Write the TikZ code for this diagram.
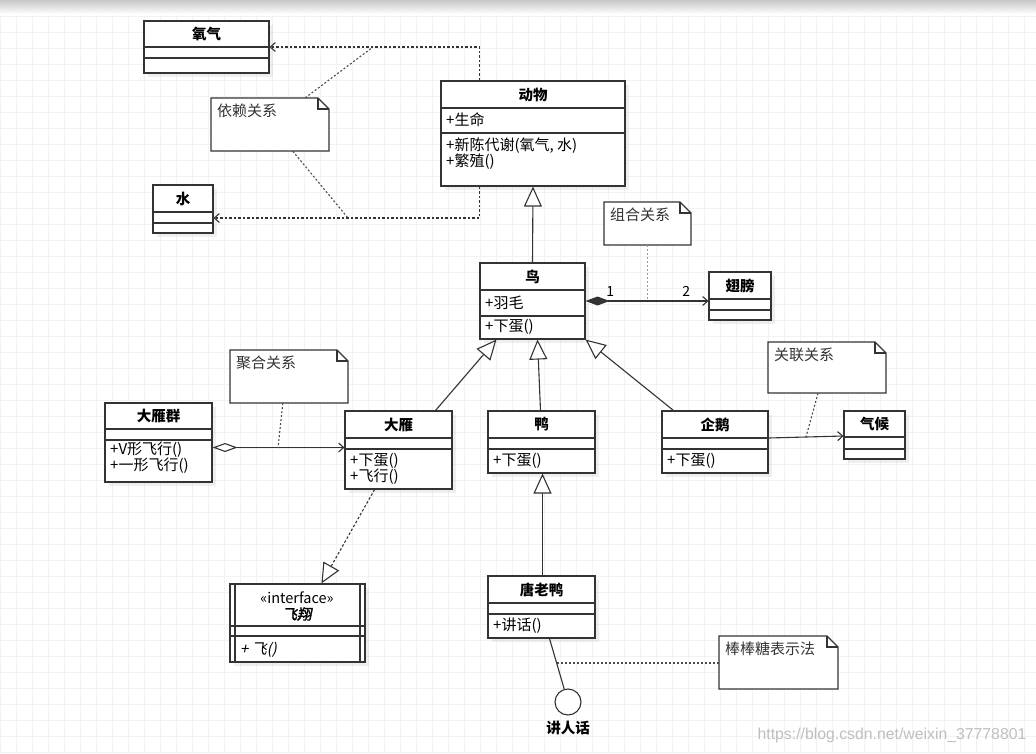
\documentclass[tikz,border=0pt]{standalone}
\usepackage{fontspec}
\setmainfont{Noto Sans CJK SC}
\newfontfamily\cjkslant{Noto Sans CJK SC}[FakeSlant=0.2]
\newfontfamily\cjkslantbold{Noto Sans CJK SC}[FakeSlant=0.2,FakeBold=2]
\newfontfamily\wmfont{Liberation Sans}
\usetikzlibrary{arrows.meta, fit, shadows, positioning}

\tikzset{
  umlbox/.style={draw=black!80, line width=1.1pt, fill=white, inner sep=0pt,
    drop shadow={opacity=0.12, shadow xshift=4pt, shadow yshift=-4pt}},
  umltitle/.style={font=\bfseries\fontsize{14.5}{16}\selectfont, inner sep=0pt},
  member/.style={font=\fontsize{15}{16}\selectfont, anchor=west, inner sep=0pt, align=left},
  notebox/.style={draw=black!80, line width=1.1pt, fill=white},
  notetext/.style={font=\fontsize{15}{16}\selectfont, anchor=north west, inner sep=0pt, text=black!80},
  gen/.style={draw=black!80, line width=1.1pt, -{Triangle[open, length=20pt, width=18pt, fill=white]}},
  realize/.style={gen, dash pattern=on 2.5pt off 2pt},
  dep/.style={draw=black!80, line width=1.1pt, dash pattern=on 2.5pt off 2pt, -{Straight Barb[length=5pt, width=9pt]}},
  assoc/.style={draw=black!80, line width=1.1pt, -{Straight Barb[length=5pt, width=9pt]}},
  comp/.style={draw=black!80, line width=1.1pt, {Diamond[length=24pt, width=9pt]}-{Straight Barb[length=5pt, width=9pt]}},
  agg/.style={draw=black!80, line width=1.1pt, {Diamond[open, length=25pt, width=9pt, fill=white]}-{Straight Barb[length=5pt, width=9pt]}},
  noteline/.style={draw=black!70, line width=1.1pt, dash pattern=on 2pt off 2pt},
  mult/.style={font=\fontsize{14}{16}\selectfont, inner sep=1pt},
}

% class box: name, x1, y1, x2, y2, first divider, second divider, title
\newcommand{\umlclass}[8]{%
  \node[umlbox, fit={(#2,#3) (#4,#5)}] (#1) {};
  \draw[black!80, line width=1.1pt] (#2,#6) -- (#4,#6) (#2,#7) -- (#4,#7);
  \node[umltitle] (#1-title) at ({(#2+#4)/2},{(#3+#6)/2}) {#8};
}
% note with folded corner: name, x1, y1, x2, y2, text
\newcommand{\umlnote}[6]{%
  \node[fit={(#2,#3) (#4,#5)}, inner sep=0pt] (#1) {};
  \draw[notebox] (#2,#3) -- (#4-11,#3) -- (#4,#3+11) -- (#4,#5) -- (#2,#5) -- cycle;
  \draw[black!80, line width=1.1pt] (#4-11,#3) -- (#4-11,#3+11) -- (#4,#3+11);
  \node[notetext] (#1-text) at (#2+6,#3+6) {#6};
}

\begin{document}
\begin{tikzpicture}[x=1pt, y=-1pt]
  \useasboundingbox (0,0) rectangle (1036,753);
  % paper
  \fill[white] (0,0) rectangle (1036,753);
  \draw[black!5, step=16pt] (0,0) grid (1036,753);
  \shade[top color=black!22, bottom color=white] (0,0) rectangle (1036,14);

  % classes
  \umlclass{O2}{144}{21}{269}{73}{47}{58}{氧气}
  \umlclass{Water}{153}{185}{213}{233}{212}{223}{水}
  \umlclass{Animal}{441}{81}{625}{186}{108}{133}{动物}
  \node[member] (Animal-attr) at (446,120) {+生命};
  \node[member] (Animal-ops) at (446,154) {+新陈代谢(氧气, 水)\\+繁殖()};
  \umlclass{Bird}{480}{263}{585}{339}{290}{316}{鸟}
  \node[member] (Bird-attr) at (485,303) {+羽毛};
  \node[member] (Bird-ops) at (485,327) {+下蛋()};
  \umlclass{Wing}{709}{272}{771}{320}{299}{310}{翅膀}
  \umlclass{Flock}{105}{403}{212}{482}{429}{440}{大雁群}
  \node[member] (Flock-ops) at (110,458) {+V形飞行()\\+一形飞行()};
  \umlclass{Goose}{345}{411}{452}{489}{438}{449}{大雁}
  \node[member] (Goose-ops) at (350,469) {+下蛋()\\+飞行()};
  \umlclass{Duck}{488}{411}{595}{473}{438}{449}{鸭}
  \node[member] (Duck-ops) at (493,461) {+下蛋()};
  \umlclass{Penguin}{662}{411}{768}{473}{438}{449}{企鹅}
  \node[member] (Penguin-ops) at (667,461) {+下蛋()};
  \umlclass{Climate}{844}{411}{905}{459}{437}{449}{气候}
  \umlclass{Donald}{488}{576}{595}{638}{603}{614}{唐老鸭}
  \node[member] (Donald-ops) at (493,626) {+讲话()};

  % interface
  \umlclass{Fly}{230}{584}{365}{662}{626}{636}{}
  \draw[black!80, line width=1.1pt] (235,584) -- (235,662) (360,584) -- (360,662);
  \node[font=\fontsize{14.5}{16}\selectfont, inner sep=0pt] (Fly-stereo) at (297,598) {«interface»};
  \node[font=\cjkslantbold\fontsize{14.5}{16}\selectfont, inner sep=0pt] (Fly-name) at (297,614) {飞翔};
  \node[member, font=\cjkslant\fontsize{15}{16}\selectfont] (Fly-ops) at (240,650) {+ 飞()};

  % notes
  \umlnote{DepNote}{211}{98}{329}{151}{依赖关系}
  \umlnote{CompNote}{604}{202}{691}{245}{组合关系}
  \umlnote{AggNote}{230}{350}{348}{403}{聚合关系}
  \umlnote{AssocNote}{768}{342}{886}{393}{关联关系}
  \umlnote{LollyNote}{719}{636}{838}{689}{棒棒糖表示法}

  % dependency
  \draw[dep] ([xshift=39pt]Animal.north west) |- (O2.east);
  \draw[dep] ([xshift=39pt]Animal.south west) |- ([yshift=-9pt]Water.east);
  \coordinate (depTop) at (373,47);
  \coordinate (depBot) at (348,218);
  \draw[noteline] ([xshift=-24pt]DepNote.north east) -- (depTop);
  \draw[noteline] ([xshift=82pt]DepNote.south west) -- (depBot);

  % generalization
  \draw[gen] (Bird.north) -- (Animal.south);
  \draw[gen] ([xshift=-17pt]Goose.north east) -- ([xshift=17pt]Bird.south west);
  \draw[gen] ([xshift=-1pt]Duck.north) -- ([xshift=5pt]Bird.south);
  \draw[gen] ([xshift=12pt]Penguin.north west) -- (Bird.south east);
  \draw[gen] ([xshift=1pt]Donald.north) -- ([xshift=1pt]Duck.south);

  % composition
  \draw[comp] (Bird.east) -- (Bird.east -| Wing.west)
    node[mult, pos=0.2, above=3pt] (m1) {1}
    node[mult, pos=0.82, above=3pt] (m2) {2};
  \draw[noteline, black!40] (CompNote.south) -- (CompNote.south |- Bird.east);

  % aggregation
  \draw[agg] ([yshift=-5pt]Flock.east) -- ([yshift=-5pt]Flock.east -| Goose.west);
  \coordinate (aggPt) at (278,448);
  \draw[noteline] ([xshift=53pt]AggNote.south west) -- (aggPt);

  % association
  \draw[assoc] ([yshift=4pt]Penguin.east) -- ([yshift=-1pt]Climate.west);
  \coordinate (assocPt) at (806,437);
  \draw[noteline] ([xshift=-9pt]AssocNote.south) -- (assocPt);

  % realization
  \draw[realize] ([xshift=-78pt]Goose.south east) -- ([xshift=92pt]Fly.north west);

  % lollipop
  \node[draw=black!80, line width=1.1pt, fill=white, circle, minimum size=26pt, inner sep=0pt] (Talk) at (568,702) {};
  \draw[black!80, line width=1.1pt] ([xshift=8pt]Donald.south) -- (Talk);
  \node[umltitle, below=5pt of Talk] (Talk-label) {讲人话};
  \coordinate (lollyPt) at (557,663);
  \draw[noteline] (lollyPt) -- (LollyNote.west |- lollyPt);

  % watermark
  \node[font=\wmfont\fontsize{15.8}{18}\selectfont, text=black!25, inner sep=0pt] (mark) at (892,735) {https://blog.csdn.net/weixin\_37778801};
\end{tikzpicture}
\end{document}
